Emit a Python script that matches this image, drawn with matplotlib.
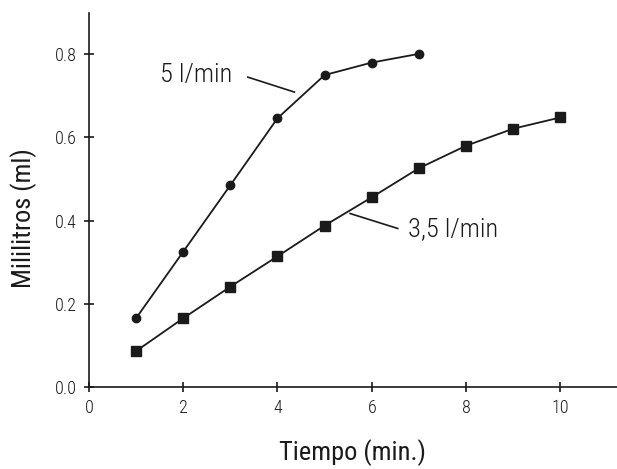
import matplotlib
matplotlib.use("Agg")
import matplotlib.pyplot as plt
from matplotlib import font_manager

names = {f.name for f in font_manager.fontManager.ttflist}
fam = 'DejaVu Sans'
for cand in ['Roboto Condensed', 'Archivo Narrow', 'Barlow Condensed', 'Liberation Sans Narrow']:
    if cand in names:
        fam = cand
        break
plt.rcParams['font.family'] = [fam, 'DejaVu Sans']
plt.rcParams['font.weight'] = 'light'

t5 = [1, 2, 3, 4, 5, 6, 7]
ml5 = [0.165, 0.325, 0.485, 0.646, 0.750, 0.780, 0.801]
t35 = [1, 2, 3, 4, 5, 6, 7, 8, 9, 10]
ml35 = [0.086, 0.165, 0.241, 0.314, 0.388, 0.456, 0.526, 0.580, 0.621, 0.648]
xticks = [0, 2, 4, 6, 8, 10]
yticks = [0.0, 0.2, 0.4, 0.6, 0.8]
label5 = "5 l/min"
label35 = "3,5 l/min"

fig = plt.figure(figsize=(6.17, 4.69), dpi=100)
ax = fig.add_axes([0.144, 0.175, 0.856, 0.798])
c = "#1a1a1a"
ax.plot(t5, ml5, color=c, lw=1.3, marker='o', ms=6)
ax.plot(t35, ml35, color=c, lw=1.3, marker='s', ms=6.5)

ax.set_xlim(0, 11.2)
ax.set_ylim(0, 0.9)
ax.set_xticks(xticks)
ax.set_yticks(yticks)
ax.set_yticklabels([f"{v:.1f}" for v in yticks])
for s in ['top', 'right']:
    ax.spines[s].set_visible(False)
for s in ['left', 'bottom']:
    ax.spines[s].set_linewidth(1.2)
    ax.spines[s].set_color(c)
ax.tick_params(direction='inout', length=7, width=1.2, colors=c, labelsize=13, pad=5)

ax.set_xlabel("Tiempo (min.)", fontsize=19, color=c, labelpad=16)
ax.set_ylabel("Mililitros (ml)", fontsize=19, color=c)
ax.yaxis.set_label_coords(-0.098, 0.45)

ax.plot([3.37, 4.36], [0.745, 0.709], color=c, lw=1.2)
ax.text(3.05, 0.75, label5, fontsize=19, color=c, ha='right', va='center')
ax.plot([5.54, 6.55], [0.417, 0.381], color=c, lw=1.2)
ax.text(6.76, 0.379, label35, fontsize=19, color=c, ha='left', va='center')

fig.savefig("out.png", dpi=100)
